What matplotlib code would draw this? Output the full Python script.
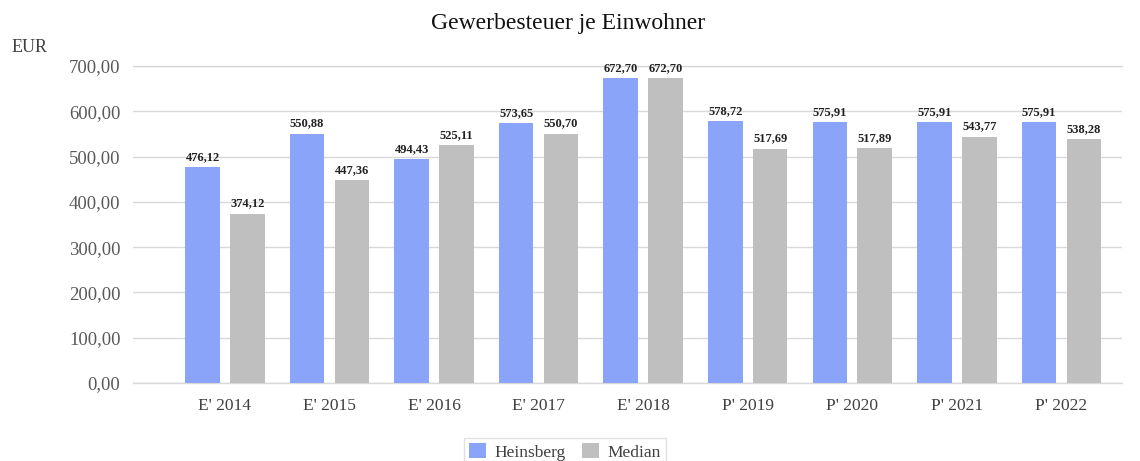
import matplotlib
matplotlib.use("Agg")
import matplotlib.pyplot as plt
import numpy as np

categories = ["E' 2014", "E' 2015", "E' 2016", "E' 2017", "E' 2018",
              "P' 2019", "P' 2020", "P' 2021", "P' 2022"]
heinsberg = [476.12, 550.88, 494.43, 573.65, 672.70, 578.72, 575.91, 575.91, 575.91]
median = [374.12, 447.36, 525.11, 550.70, 672.70, 517.69, 517.89, 543.77, 538.28]
yticks = [0, 100, 200, 300, 400, 500, 600, 700]

plt.rcParams['font.family'] = ['Liberation Serif', 'DejaVu Serif']

W, H = 1140, 461
fig = plt.figure(figsize=(W / 100, H / 100), dpi=100)
ax = fig.add_axes([133 / W, 1 - 383 / H, (1122 - 133) / W, (383 - 66) / H])

x = np.arange(len(categories))
bw = 0.33
off = 0.215
blue = '#89A4F8'
gray = '#BFBFBF'
b1 = ax.bar(x - off, heinsberg, bw, color=blue, label='Heinsberg', zorder=3)
b2 = ax.bar(x + off, median, bw, color=gray, label='Median', zorder=3)

def fmt(v):
    return f"{v:.2f}".replace('.', ',')

for bars, vals in ((b1, heinsberg), (b2, median)):
    for r, v in zip(bars, vals):
        ax.annotate(fmt(v), (r.get_x() + r.get_width() / 2, v), xytext=(0, 3),
                    textcoords='offset points', ha='center', va='bottom',
                    fontsize=9, fontweight='bold', color='#222222')

ax.set_ylim(0, 700)
ax.set_xlim(-0.88, 8.58)
ax.set_yticks(yticks)
ax.set_yticklabels([fmt(v) for v in yticks], fontsize=13.5, color='#595959')
ax.set_xticks(x)
ax.set_xticklabels(categories, fontsize=12.5, color='#404040')
ax.tick_params(axis='both', length=0)
ax.tick_params(axis='y', pad=9)
ax.tick_params(axis='x', pad=11)
ax.grid(axis='y', color='#D9D9D9', linewidth=1, zorder=0)
ax.axhline(0, color='#D9D9D9', linewidth=1, zorder=0, clip_on=False)
ax.axhline(700, color='#D9D9D9', linewidth=1, zorder=0, clip_on=False)
for s in ax.spines.values():
    s.set_visible(False)

fig.text(568 / W, 1 - 24 / H, 'Gewerbesteuer je Einwohner', ha='center', va='center',
         fontsize=17, color='#111111')
fig.text(12 / W, 1 - 48 / H, 'EUR', ha='left', va='center', fontsize=13, color='#404040')

leg = fig.legend(loc='upper center', bbox_to_anchor=(565 / W, 1 - 429 / H), ncol=2,
                 fontsize=12.5, frameon=True, fancybox=False, edgecolor='#D9D9D9',
                 handlelength=1.0, handleheight=1.0, columnspacing=0.9,
                 handletextpad=0.5, borderpad=0.3)
for t in leg.get_texts():
    t.set_color('#404040')

fig.savefig('out.png', dpi=100)
